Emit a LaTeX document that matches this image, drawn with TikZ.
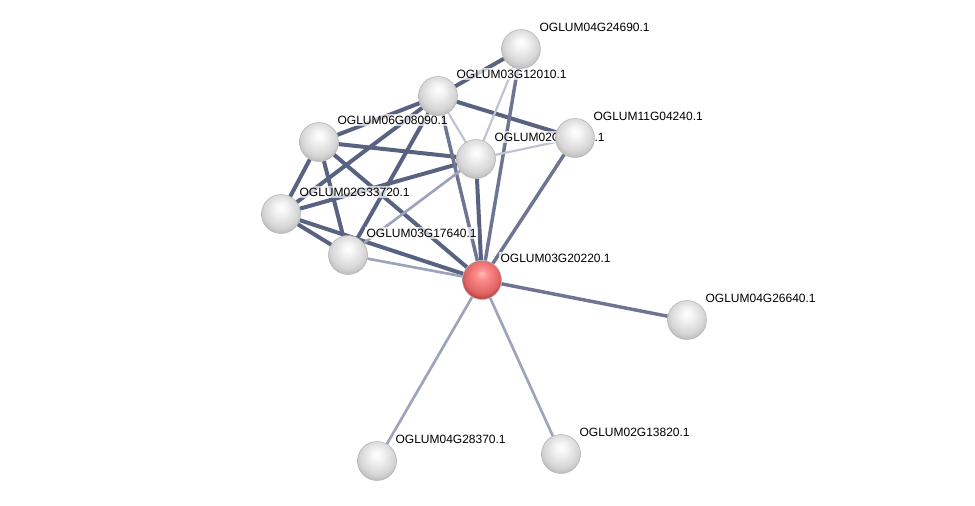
\documentclass[tikz,border=0pt]{standalone}
\usepackage{fontspec}
\setmainfont{Liberation Sans}
\usetikzlibrary{calc, backgrounds}
\definecolor{cstrong}{HTML}{5A6282}
\definecolor{cmid}{HTML}{6E7593}
\definecolor{cweak}{HTML}{9EA3BB}
\definecolor{cfaint}{HTML}{BEC2D4}
\pgfdeclareradialshading{greyball}{\pgfqpoint{0bp}{9bp}}{color(0bp)=(white); color(7bp)=(white!96!black);
  color(22bp)=(white!84!black); color(30bp)=(white!72!black); color(34bp)=(white!58!black); color(50bp)=(white!58!black)}
\pgfdeclareradialshading{redball}{\pgfqpoint{0bp}{9bp}}{color(0bp)=(white!75!red); color(7bp)=(red!45!white);
  color(22bp)=(red!55!white!88!black); color(30bp)=(red!70!white!70!black); color(34bp)=(red!60!black); color(50bp)=(red!60!black)}
\tikzset{
  every picture/.style={x=0.75pt, y=-0.75pt},
  protein/.style={circle, minimum size=29.25pt, inner sep=0pt, shading=#1, draw=black!30, line width=0.4pt},
  protein/.default=greyball,
  strong/.style={draw=cstrong, line width=3pt},
  medium/.style={draw=cmid, line width=2.6pt},
  weak/.style={draw=cweak, line width=2pt},
  faint/.style={draw=cfaint, line width=1.6pt},
  plabel/.style={anchor=west, inner sep=1pt, font=\fontsize{9}{10}\selectfont, fill=white, fill opacity=0.7, text opacity=1},
}

\begin{document}
\begin{tikzpicture}
  \useasboundingbox (0,0) rectangle (975,506);

  % proteins
  \node[protein] (p24690) at (521,49) {};
  \node[protein] (p12010) at (438,96) {};
  \node[protein] (p08090) at (319,142) {};
  \node[protein] (p02mid) at (476,159) {};
  \node[protein] (p04240) at (575,138) {};
  \node[protein] (p33720) at (281,214) {};
  \node[protein] (p17640) at (348,255) {};
  \node[protein=redball] (p20220) at (482,280) {};
  \node[protein] (p26640) at (687,320) {};
  \node[protein] (p28370) at (377,461) {};
  \node[protein] (p13820) at (561,454) {};

  \begin{pgfonlayer}{background}
    % interactions
    \foreach \a/\b in {p24690/p12010, p12010/p08090, p12010/p04240, p12010/p33720, p12010/p17640,
        p08090/p02mid, p08090/p33720, p08090/p17640, p08090/p20220, p33720/p02mid,
        p33720/p17640, p33720/p20220, p02mid/p20220}
      \draw[strong] (\a) -- (\b);
    \foreach \a/\b in {p24690/p20220, p12010/p20220, p04240/p20220, p20220/p26640}
      \draw[medium] (\a) -- (\b);
    \foreach \a/\b in {p17640/p02mid, p17640/p20220, p20220/p28370, p20220/p13820}
      \draw[weak] (\a) -- (\b);
    \foreach \a/\b in {p24690/p02mid, p12010/p02mid, p02mid/p04240}
      \draw[faint] (\a) -- (\b);

    % names
    \foreach \n/\t in {p24690/OGLUM04G24690.1, p12010/OGLUM03G12010.1, p08090/OGLUM06G08090.1,
        p02mid/OGLUM02G05870.1, p04240/OGLUM11G04240.1, p33720/OGLUM02G33720.1,
        p17640/OGLUM03G17640.1, p20220/OGLUM03G20220.1, p26640/OGLUM04G26640.1,
        p28370/OGLUM04G28370.1, p13820/OGLUM02G13820.1}
      \node[plabel] (\n-name) at ($(\n.center)+(17,-22)$) {\t};
  \end{pgfonlayer}
\end{tikzpicture}
\end{document}
